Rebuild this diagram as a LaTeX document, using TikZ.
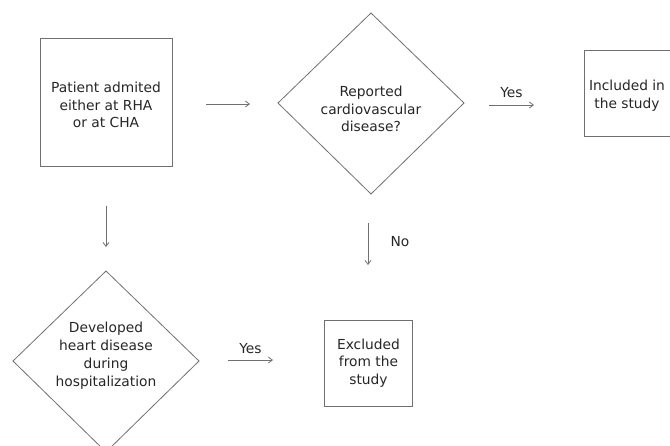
\documentclass[tikz,border=0pt]{standalone}
\usepackage{fontspec}
\setmainfont{DejaVu Sans}
\usetikzlibrary{shapes.geometric,arrows.meta}
\definecolor{linec}{HTML}{707070}
\definecolor{textc}{HTML}{262626}
\begin{document}
\begin{tikzpicture}[x=1pt,y=-1pt,
  every node/.style={text=textc,font=\fontsize{13.8}{17.8}\selectfont,align=center},
  box/.style={draw=linec,line width=0.8pt,inner sep=0pt},
  dia/.style={draw=linec,line width=0.8pt},
  conn/.style={draw=linec,line width=0.8pt,-{Straight Barb[length=4pt,width=6pt]}},
  lbl/.style={text=textc}]
\useasboundingbox (0,0) rectangle (670,445);
\clip (0,0) rectangle (670,445);
\node[box,minimum width=132pt,minimum height=128pt] (adm) at (106,102) {};
\node at (106,105) {Patient admited\\either at RHA\\or at CHA};
\draw[dia] (278,103) -- (371,13) -- (464,103) -- (371,194) -- cycle;
\node (rep) at (371,109) {Reported\\cardiovascular\\disease?};
\node[box,minimum width=100pt,minimum height=86pt] (inc) at (634,93) {};
\node at (627,95.5) {Included in\\the study};
\draw[dia] (13,361) -- (106,271) -- (199,361) -- (106,452) -- cycle;
\node (dev) at (106,355.5) {Developed\\heart disease\\during\\hospitalization};
\node[box,minimum width=88pt,minimum height=86pt] (exc) at (368.5,363) {Excluded\\from the\\study};
\coordinate (a1s) at (206,104); \coordinate (a1e) at (250,104);
\coordinate (a2s) at (489,105); \coordinate (a2e) at (534,105);
\coordinate (a3s) at (106,206); \coordinate (a3e) at (106,247);
\coordinate (a4s) at (368,223); \coordinate (a4e) at (368,265);
\coordinate (a5s) at (228,360); \coordinate (a5e) at (273,360);
\draw[conn] (a1s) -- (a1e);
\draw[conn] (a2s) -- (a2e) node[lbl,midway,above=3.5pt] {Yes};
\draw[conn] (a3s) -- (a3e);
\draw[conn] (a4s) -- (a4e);
\node[lbl] (no) at (400,242) {No};
\draw[conn] (a5s) -- (a5e) node[lbl,midway,above=3pt] {Yes};
\end{tikzpicture}
\end{document}
